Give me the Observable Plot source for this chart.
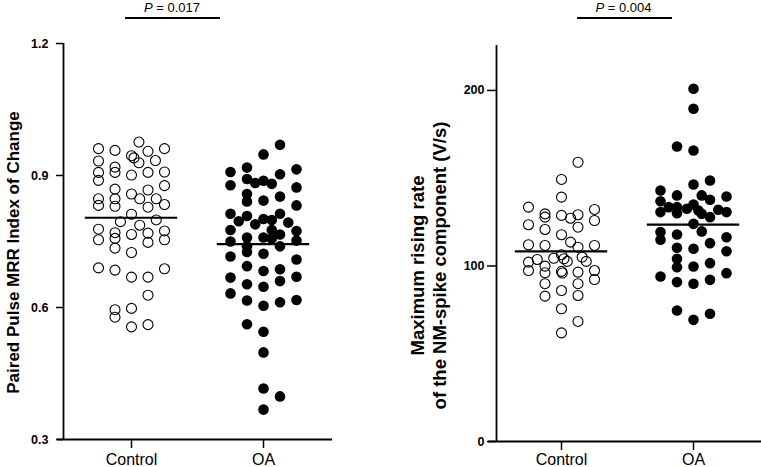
<!DOCTYPE html>
<html><head><meta charset="utf-8">
<script src="https://cdn.jsdelivr.net/npm/d3@7"></script>
<script src="https://cdn.jsdelivr.net/npm/@observablehq/plot@0.6"></script>
<style>
html,body{margin:0;padding:0;background:#fff;}
#wrap{position:relative;width:761px;height:467px;overflow:hidden;font-family:"Liberation Sans",Arial,sans-serif;color:#000;}
.panel{position:absolute;top:0;}
.ptext{position:absolute;width:100px;text-align:center;font-size:13px;line-height:14px;}
.pbar{position:absolute;height:2px;background:#000;}
</style></head><body><div id="wrap"></div>
<script>
// ---------- data ----------
const groups = ["Control", "OA"];

// Left panel: Paired Pulse MRR Index of Change (value, column in swarm)
const ctrlMrrValues = [0.976,0.961,0.957,0.945,0.940,0.955,0.961,0.929,0.934,0.933,0.907,0.889,0.919,0.907,0.901,0.907,0.908,0.877,0.869,0.858,0.867,0.847,0.847,0.847,0.832,0.847,0.830,0.828,0.834,0.812,0.795,0.799,0.787,0.778,0.754,0.770,0.757,0.735,0.766,0.769,0.748,0.774,0.754,0.725,0.690,0.685,0.669,0.669,0.688,0.628,0.595,0.578,0.598,0.556,0.561];
const ctrlMrrCols   = [0.45,-2,-1,0,0.15,1,2,0.45,1.45,-2,-2,-2,-1,-1,0,1,2,2,-1,0,1,0.5,1.5,-2,-2,-1,-1,1,2,0,-0.67,1.5,0.5,-2,-2,-1,-1,-1,0,1,1,2,2,0,-2,-1,0,1,2,1,-1,-1,0,0,1];
const oaMrrValues = [0.970,0.948,0.908,0.918,0.903,0.914,0.878,0.892,0.883,0.888,0.881,0.873,0.858,0.841,0.843,0.852,0.832,0.813,0.808,0.796,0.789,0.801,0.799,0.813,0.793,0.776,0.750,0.759,0.739,0.759,0.776,0.757,0.766,0.739,0.774,0.752,0.716,0.726,0.722,0.694,0.683,0.687,0.709,0.668,0.653,0.647,0.660,0.670,0.632,0.616,0.604,0.612,0.617,0.562,0.545,0.498,0.416,0.398,0.368];
const oaMrrCols   = [1,0,-2,-1,1,2,-2,-1,-0.5,0,0.5,2,-1,-1,0,1,2,-2,-1,-1.5,-0.5,0,0.5,1,1.5,-2,-2,-1,-1,0,0.5,0.5,1,1,2,2,-2,-1,0,-1,0,1,2,-2,-1,0,1,2,-2,-1,0,1,2,-1,0,0,0,1,0];
const mrrMeans = [0.804, 0.744];
const mrrTicks = [0.3, 0.6, 0.9, 1.2];

// Right panel: Maximum rising rate (V/s)
const ctrlRateValues = [159.1,149.3,139.2,133.5,129.7,127.8,128.8,127.2,129.2,132.2,125.9,123.5,120.8,122.1,117.8,113.6,112.1,111.7,110.7,111.7,104.4,106.4,104.1,102.6,103.7,102.2,97.4,99.9,96.1,96.9,96.0,105.0,102.6,96.5,97.4,92.3,89.9,82.8,86.0,89.9,83.2,75.6,68.4,61.9];
const ctrlRateCols   = [1,0,0,-2,-1,-1,0,0.55,1,2,2,-2,-1,1,0,0.55,-2,-1,1,2,-0.47,0,0.15,0.35,-1.47,-2,-2,-1,-1,0,0.05,1.25,1.5,1,2,2,-1,-1,0,1,1,0,1,0];
const oaRateValues = [201.0,189.6,168.1,165.8,148.7,146.4,143.0,140.2,140.2,137.7,139.6,136.9,130.7,133.5,133.5,130.1,132.6,135.0,131.6,129.7,127.8,132.0,130.7,124.0,119.7,119.3,114.9,117.9,110.4,104.1,99.3,109.8,99.7,113.0,101.6,116.4,108.4,95.9,94.0,90.8,89.9,92.1,74.6,69.3,72.8];
const oaRateCols   = [0,0,-1,0,1,0,-2,-1,0.5,1,2,-2,-2,-1.5,-1,-1,-0.4,0,0.3,0.5,1,1.5,2,0,0.5,-2,-2,-1,-1,-1,-1,0,0,1,1,2,2,2,-2,-1,0,1,-1,0,1];
const rateMeans = [108.3, 123.6];
const rateTicks = [0, 100, 200];

const mrrLabel = "Paired Pulse MRR Index of Change";
const rateLabel = "Maximum rising rate\nof the NM-spike component (V/s)";
const pValues = ["0.017", "0.004"];

// ---------- drawing ----------
const COL_STEP = 0.125;   // horizontal spacing of swarm columns (in group units)
const MEAN_HALF = 0.35;   // half width of mean bar
const FONT = "'Liberation Sans', Arial, sans-serif";

function rows(values, cols, g) {
  return values.map((v, i) => ({g, v, col: cols[i]}));
}

function panel(o) {
  const ctrl = rows(o.ctrlValues, o.ctrlCols, 0);
  const oa = rows(o.oaValues, o.oaCols, 1);
  const means = o.means.map((v, g) => ({g, v}));
  const px = d => d.g + d.col * COL_STEP;
  const svg = Plot.plot({
    width: o.width, height: 467,
    marginLeft: o.marginLeft, marginRight: o.marginRight,
    marginTop: o.marginTop, marginBottom: o.marginBottom,
    style: {fontFamily: FONT, color: "#000", background: "transparent", overflow: "visible"},
    x: {type: "linear", domain: o.xDomain},
    y: {domain: o.yDomain},
    marks: [
      Plot.ruleY([o.yDomain[0]], {stroke: "#000", strokeWidth: 1.8, insetLeft: -o.xExt}),
      Plot.ruleX([o.xDomain[0]], {stroke: "#000", strokeWidth: 1.8}),
      Plot.axisY({ticks: o.yTicks, tickSize: o.yTickSize, tickPadding: o.yTickPadding, strokeWidth: 1.5,
                  fontSize: 12.5, fontWeight: "bold", tickFormat: o.yFormat, label: null}),
      Plot.axisX({ticks: [0, 1], tickFormat: i => groups[i], tickSize: 9, tickPadding: o.xTickPadding,
                  strokeWidth: 1.5, fontSize: 16, label: null}),
      Plot.dot(ctrl, {x: px, y: "v", r: 5, fill: "none", stroke: "#000", strokeWidth: 1.1}),
      Plot.dot(oa, {x: px, y: "v", r: 5.3, fill: "#000", stroke: "none"}),
      Plot.ruleY(means, {y: "v", x1: d => d.g - MEAN_HALF, x2: d => d.g + MEAN_HALF, stroke: "#000", strokeWidth: 2.2}),
      Plot.text([o.label], {frameAnchor: "left", textAnchor: "middle", lineAnchor: "middle", rotate: -90,
                  dx: o.labelDx, dy: o.labelDy,
                  fontSize: o.labelSize, fontWeight: "bold", lineHeight: 1.2, fill: "#000"})
    ]
  });
  d3.select(svg).selectAll('[aria-label="y-axis tick label"] text, [aria-label="y-axis tick label"]')
    .attr("font-weight", "bold");
  return svg;
}

const wrap = document.getElementById("wrap");

const left = panel({
  width: 380, marginLeft: 63, marginRight: 48, marginTop: 43, marginBottom: 28,
  xDomain: [-68/132, 1 + 69/132], xExt: 6,
  yDomain: [0.3, 1.2], yTicks: mrrTicks, yFormat: d3.format(".1f"), yTickSize: 7, yTickPadding: 8,
  xTickPadding: 5,
  ctrlValues: ctrlMrrValues, ctrlCols: ctrlMrrCols, oaValues: oaMrrValues, oaCols: oaMrrCols,
  means: mrrMeans, label: mrrLabel, labelDx: -51, labelDy: 11, labelSize: 17
});
left.classList.add("panel"); left.style.left = "0px";
wrap.appendChild(left);

const right = panel({
  width: 381, marginLeft: 116, marginRight: 0, marginTop: 45, marginBottom: 26,
  xDomain: [-65/132, 1 + 68/132], xExt: 8,
  yDomain: [0, 225.6], yTicks: rateTicks, yFormat: d3.format("d"), yTickSize: 9, yTickPadding: 3,
  xTickPadding: 3,
  ctrlValues: ctrlRateValues, ctrlCols: ctrlRateCols, oaValues: oaRateValues, oaCols: oaRateCols,
  means: rateMeans, label: rateLabel, labelDx: -69, labelDy: 22, labelSize: 18.5
});
right.classList.add("panel"); right.style.left = "380px";
wrap.appendChild(right);

// P-value annotations
const pPos = [{cx: 172, x1: 125, x2: 220}, {cx: 623.5, x1: 577, x2: 672}];
pValues.forEach((p, i) => {
  const t = document.createElement("div");
  t.className = "ptext";
  t.style.left = (pPos[i].cx - 50) + "px";
  t.style.top = "1px";
  t.innerHTML = "<i>P</i> = " + p;
  wrap.appendChild(t);
  const b = document.createElement("div");
  b.className = "pbar";
  b.style.left = pPos[i].x1 + "px";
  b.style.width = (pPos[i].x2 - pPos[i].x1) + "px";
  b.style.top = "17px";
  wrap.appendChild(b);
});
</script>
</body></html>
